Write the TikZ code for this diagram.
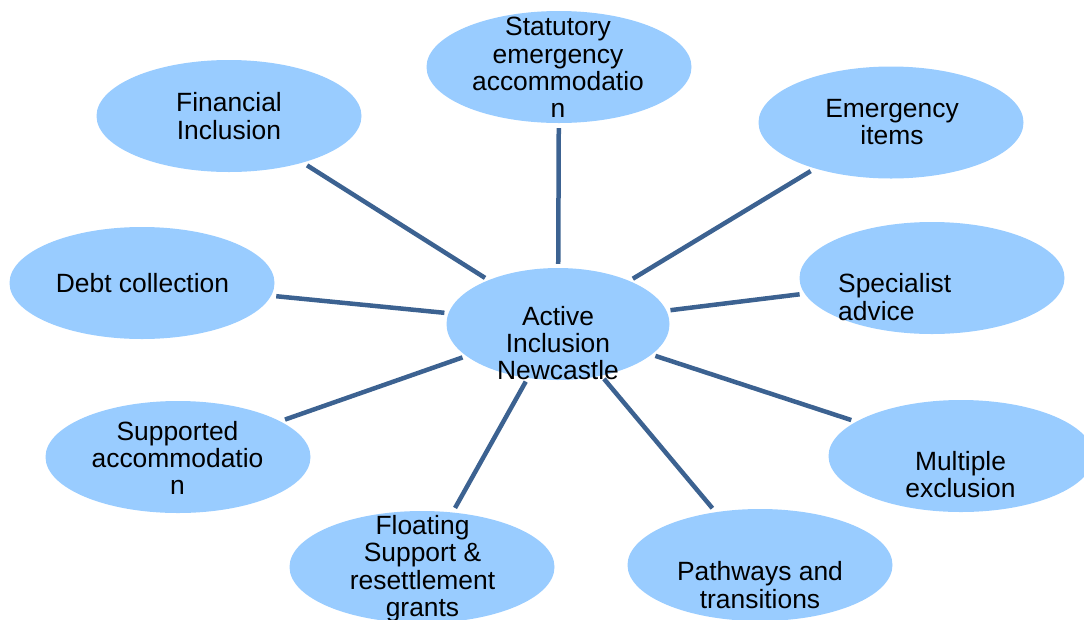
\documentclass[tikz,border=0pt]{standalone}
\usepackage{fontspec}
\setmainfont{Liberation Sans}
\usetikzlibrary{shapes.geometric}
\definecolor{bubble}{RGB}{153,204,255}
\definecolor{spoke}{RGB}{60,98,145}
\begin{document}
\begin{tikzpicture}[x=1pt,y=-1pt,
  bub/.style={ellipse,fill=bubble,draw=none,inner sep=0pt,minimum width=265pt,minimum height=112pt},
  lbl/.style={inner sep=0pt,align=center,font=\fontsize{26.4}{27.4}\selectfont},
  spk/.style={draw=spoke,line width=4.5pt,shorten <=4pt,shorten >=5pt}]
\useasboundingbox (0,0) rectangle (1084,619);
% ellipses
\node[bub] (stat) at (559,67) {};
\node[bub] (fin) at (229,116) {};
\node[bub] (emer) at (891,122.5) {};
\node[bub] (debt) at (142,283) {};
\node[bub] (spec) at (932,278) {};
\node[bub] (supp) at (178,457) {};
\node[bub] (mult) at (961,456) {};
\node[bub] (flt) at (422,567) {};
\node[bub] (path) at (760,565) {};
\node[bub,minimum width=223pt] (hub) at (558,324) {};
% spokes
\foreach \t in {stat,fin,emer,debt,spec,supp,mult,flt,path}
  \draw[spk] (hub) -- (\t);
% texts
\node[lbl] (tstat) at (558,67.5) {Statutory\\emergency\\accommodatio\\n};
\node[lbl] (thub) at (558,343) {Active\\Inclusion\\Newcastle};
\node[lbl] (tfin) at (229,116) {Financial\\Inclusion};
\node[lbl] (temer) at (892,122) {Emergency\\items};
\node[lbl] (tdebt) at (142.5,283) {Debt collection};
\node[lbl,align=left,anchor=west] (tspec) at (838,297) {Specialist\\advice};
\node[lbl] (tsupp) at (177.5,458) {Supported\\accommodatio\\n};
\node[lbl] (tmult) at (960.5,474.5) {Multiple\\exclusion};
\node[lbl] (tflt) at (422.5,568.5) {Floating\\Support \&\\resettlement\\grants};
\node[lbl] (tpath) at (760,585) {Pathways and\\transitions};
\end{tikzpicture}
\end{document}
